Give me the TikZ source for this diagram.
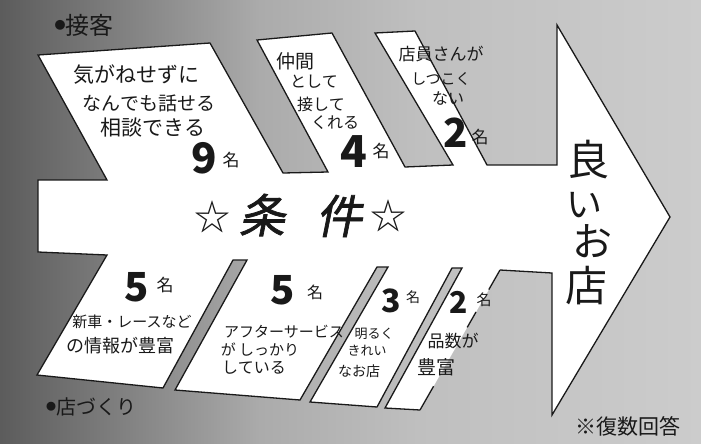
\documentclass[tikz,border=0pt]{standalone}
\usepackage{fontspec}
\usetikzlibrary{calc}
\setmainfont{Noto Sans CJK JP}
\newfontfamily\jokenfont[FakeSlant=0.2,FakeBold=1.5]{Noto Sans CJK JP}
\newcommand\fsz[1]{\fontsize{#1}{#1}\selectfont}
\definecolor{g0}{gray}{0.36}
\definecolor{g1}{gray}{0.50}
\definecolor{g2}{gray}{0.67}
\definecolor{g3}{gray}{0.75}
\definecolor{g4}{gray}{0.80}
\definecolor{ink}{gray}{0.1}
\tikzset{
  txt/.style={inner sep=0pt, text=ink},
  num/.style={inner sep=0pt, text=ink, font=\bfseries},
  edge/.style={draw=ink, line width=1.3pt, line join=miter},
}
\begin{document}
\begin{tikzpicture}[x=1pt,y=-1pt]
\useasboundingbox (0,0) rectangle (701,444);
% background
\shade[left color=g0,right color=g1] (0,0) rectangle (120,444);
\shade[left color=g1,right color=g2] (119.5,0) rectangle (260,444);
\shade[left color=g2,right color=g3] (259.5,0) rectangle (420,444);
\shade[left color=g3,right color=g4] (419.5,0) rectangle (701,444);
% white body
\fill[white] (38,180) -- (107,180) -- (38,55) -- (210,43) -- (283,173) -- (328,172)
  -- (257,40) -- (332,33) -- (405,167) -- (453,165) -- (375,33) -- (415,31)
  -- (487,165) -- (557,165) -- (557,25) -- (670,217) -- (552,415) -- (552,273)
  -- (500,270) -- (420,410) -- (385,408) -- (462,268) -- (452,268) -- (377,407)
  -- (310,402) -- (388,267) -- (377,267) -- (300,400) -- (175,390) -- (247,260)
  -- (233,260) -- (163,388) -- (37,375) -- (107,255) -- (38,252) -- cycle;
\draw[edge] (420,410) -- (385,408) -- (462,268) -- (452,268) -- (377,407)
  -- (310,402) -- (388,267) -- (377,267) -- (300,400) -- (175,390) -- (247,260)
  -- (233,260) -- (163,388) -- (37,375) -- (107,255) -- (38,252) -- (38,180)
  -- (107,180) -- (38,55) -- (210,43) -- (283,173) -- (328,172)
  -- (257,40) -- (332,33) -- (405,167) -- (453,165) -- (375,33) -- (415,31)
  -- (487,165) -- (557,165) -- (557,25) -- (670,217) -- (552,415) -- (552,273)
  -- (500,270);
\coordinate (ea) at (500,270);
\coordinate (eb) at (420,410);
\draw[edge] (ea) -- ($(ea)!0.14!(eb)$);
\draw[edge] ($(ea)!0.30!(eb)$) -- ($(ea)!0.41!(eb)$);
\draw[edge] ($(ea)!0.83!(eb)$) -- (eb);
% section labels
\node[txt] (sec1) at (84,25) {\fsz{24}{\fsz{11}\raisebox{5pt}{●}}接客};
\node[txt] (sec2) at (91,407) {\fsz{20}{\fsz{10}\raisebox{4pt}{●}}店づくり};
\node[txt] (note) at (628,426) {\fsz{21}※復数回答};
% upper boxes
\node[txt] (a1) at (136,75) {\fsz{21}気がねせずに};
\node[txt] (a2) at (149,103) {\fsz{19}なんでも話せる};
\node[txt] (a3) at (153,128) {\fsz{21}相談できる};
\node[num] (a4) at (204,158) {\fsz{42}9};
\node[txt] (a5) at (231,160) {\fsz{17}名};
\node[txt] (b1) at (295,61) {\fsz{19}仲間};
\node[txt] (b2) at (314,82) {\fsz{16}として};
\node[txt] (b3) at (321,104) {\fsz{16}接して};
\node[txt] (b4) at (335,123) {\fsz{16}くれる};
\node[num] (b5) at (354,152) {\fsz{44}4};
\node[txt] (b6) at (381,151) {\fsz{17}名};
\node[txt] (c1) at (441,54) {\fsz{17}店員さんが};
\node[txt] (c2) at (441,79) {\fsz{15}しつこく};
\node[txt] (c3) at (448,98) {\fsz{16}ない};
\node[num] (c4) at (456,133) {\fsz{40}2};
\node[txt] (c5) at (480,137) {\fsz{17}名};
% center
\node[txt] (s1) at (212,217) {\fsz{36}☆};
\node[txt] (j1) at (262,215) {\jokenfont\fsz{46}条};
\node[txt] (j2) at (339,216) {\jokenfont\fsz{46}件};
\node[txt] (s2) at (388,216) {\fsz{36}☆};
% arrow head text
\node[txt] (r1) at (588,160) {\fsz{42}良};
\node[txt] (r2) at (584,205) {\fsz{36}い};
\node[txt] (r3) at (592,241) {\fsz{40}お};
\node[txt] (r4) at (586,286) {\fsz{42}店};
% lower boxes
\node[num] (d1) at (137,287) {\fsz{40}5};
\node[txt] (d2) at (165,285) {\fsz{17}名};
\node[txt] (d3) at (132,322) {\fsz{15}新車・レースなど};
\node[txt] (d4) at (120,346) {\fsz{18}の情報が豊富};
\node[num] (e1) at (283,290) {\fsz{40}5};
\node[txt] (e2) at (315,292) {\fsz{16}名};
\node[txt] (e3) at (284,332) {\fsz{15}アフターサービス};
\node[txt] (e4) at (260,350) {\fsz{15}が しっかり};
\node[txt] (e5) at (254,368) {\fsz{16}している};
\node[num] (f1) at (391,301) {\fsz{32}3};
\node[txt] (f2) at (413,297) {\fsz{14}名};
\node[txt] (f3) at (374,334) {\fsz{13}明るく};
\node[txt] (f4) at (367,351) {\fsz{13}きれい};
\node[txt] (f5) at (359,371) {\fsz{14}なお店};
\node[num] (g1n) at (459,302) {\fsz{30}2};
\node[txt] (g2n) at (484,300) {\fsz{15}名};
\node[txt] (g3n) at (453,341) {\fsz{17}品数が};
\node[txt] (g4n) at (436,367) {\fsz{19}豊富};
\end{tikzpicture}
\end{document}
